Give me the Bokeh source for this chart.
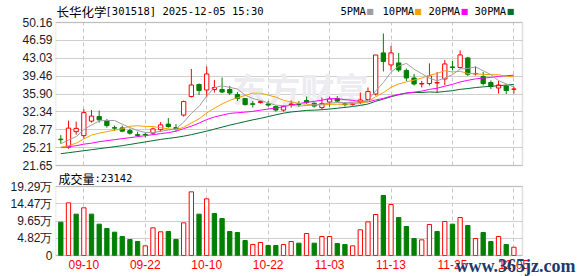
from bokeh.plotting import figure
from bokeh.models import FixedTicker, Range1d, Label, ColumnDataSource, BoxAnnotation, Grid
from bokeh.embed import file_html
from bokeh.resources import INLINE

# ---------------- data ----------------
dates = ["09-05", "09-08", "09-09", "09-10", "09-11", "09-12", "09-15", "09-16", "09-17", "09-18",
         "09-19", "09-22", "09-23", "09-24", "09-25", "09-26", "09-29", "09-30", "10-09", "10-10",
         "10-13", "10-14", "10-15", "10-16", "10-17", "10-20", "10-21", "10-22", "10-23", "10-24",
         "10-27", "10-28", "10-29", "10-30", "10-31", "11-03", "11-04", "11-05", "11-06", "11-07",
         "11-10", "11-11", "11-12", "11-13", "11-14", "11-17", "11-18", "11-19", "11-20", "11-21",
         "11-24", "11-25", "11-26", "11-27", "11-28", "12-01", "12-02", "12-03", "12-04", "12-05"]

open_ = [26.9, 25.3, 28.4, 27.6, 30.5, 31.4, 30.5, 29.2, 29.15, 28.6,
         27.8, 27.85, 28.1, 28.8, 29.9, 29.2, 31.7, 35.4, 37.8, 36.7,
         36.8, 36.8, 36.8, 35.8, 35.0, 33.95, 34.2, 33.9, 33.4, 32.7,
         33.8, 33.9, 34.6, 34.05, 33.2, 34.3, 35.0, 33.95, 33.85, 34.2,
         34.8, 35.9, 44.1, 41.7, 42.1, 40.6, 39.1, 37.9, 38.0, 38.1,
         38.9, 41.3, 41.2, 43.1, 39.9, 39.4, 38.2, 37.1, 37.5, 36.85]
high = [27.7, 30.6, 30.4, 32.9, 32.7, 32.6, 30.9, 29.6, 29.6, 29.0,
        28.4, 28.2, 29.2, 30.3, 31.1, 29.9, 34.6, 40.9, 38.0, 41.4,
        38.7, 39.2, 37.5, 36.3, 35.1, 34.5, 34.6, 34.5, 33.6, 33.7,
        34.6, 34.5, 35.4, 34.2, 35.2, 35.4, 35.5, 34.3, 34.2, 36.2,
        37.2, 43.68, 47.97, 45.5, 44.1, 41.0, 39.9, 38.5, 42.0, 40.3,
        42.7, 42.5, 44.6, 43.3, 41.4, 40.3, 38.6, 38.5, 37.6, 37.4]
low = [26.0, 25.0, 27.8, 27.0, 30.2, 30.2, 29.2, 28.6, 28.3, 27.8,
       27.4, 27.2, 27.8, 28.4, 29.2, 28.4, 31.4, 35.2, 35.7, 35.2,
       36.2, 36.1, 35.7, 34.5, 33.6, 33.2, 34.0, 33.4, 32.4, 32.4,
       33.2, 33.3, 33.9, 33.2, 32.8, 33.4, 34.3, 33.4, 33.6, 33.9,
       34.6, 35.6, 40.4, 40.6, 40.3, 38.5, 37.6, 37.2, 37.6, 36.1,
       37.7, 40.6, 41.0, 39.5, 39.6, 37.6, 36.9, 36.0, 35.9, 36.0]
close = [26.8, 29.1, 29.05, 32.2, 31.5, 30.75, 29.6, 29.1, 28.5, 28.1,
         27.65, 27.75, 28.95, 29.75, 29.4, 29.0, 34.4, 37.7, 36.6, 39.9,
         37.2, 36.3, 36.1, 35.0, 33.8, 33.85, 34.4, 33.7, 32.7, 33.4,
         33.9, 33.8, 34.2, 33.5, 34.0, 34.9, 34.5, 33.8, 33.95, 34.7,
         36.4, 43.68, 42.4, 44.1, 40.7, 39.1, 37.9, 38.0, 39.5, 38.2,
         41.9, 41.2, 43.7, 39.85, 40.0, 38.0, 37.4, 37.7, 36.6, 36.9]

# volume in units of 万 (10k lots)
volume = [9.32, 14.72, 11.56, 13.33, 11.56, 8.76, 7.55, 6.52, 5.31, 4.47,
          3.91, 2.70, 7.73, 6.62, 6.71, 4.47, 9.13, 17.80, 11.56, 15.84,
          11.74, 10.34, 6.71, 6.43, 4.19, 3.08, 3.63, 2.80, 2.80, 3.08,
          3.91, 3.45, 6.15, 3.45, 5.31, 5.31, 3.35, 3.08, 2.70, 7.18,
          9.41, 11.46, 16.77, 14.26, 10.62, 8.11, 4.75, 4.38, 8.67, 6.71,
          9.50, 8.76, 10.62, 8.39, 4.75, 6.43, 3.91, 5.31, 3.08, 2.3142]

ma5 = [26.0, 26.7, 27.4, 28.8, 29.74, 30.53, 30.63, 30.63, 29.89, 29.21,
       28.62, 28.24, 28.21, 28.46, 28.72, 28.96, 30.3, 32.05, 33.42, 35.52,
       37.16, 37.54, 37.22, 36.9, 35.68, 35.0, 34.62, 34.14, 33.68, 33.6,
       33.62, 33.5, 33.6, 33.76, 33.88, 34.08, 34.22, 34.16, 34.22, 34.36,
       34.66, 36.5, 38.2, 40.26, 41.46, 42.0, 40.86, 39.96, 39.04, 38.54,
       39.1, 39.74, 40.9, 40.98, 41.32, 40.54, 39.78, 38.58, 37.92, 37.32]
ma10 = [25.3, 25.6, 26.1, 26.96, 27.7, 28.1, 28.4, 28.7, 28.95, 29.48,
        29.58, 29.44, 29.42, 29.18, 28.97, 28.79, 29.27, 30.13, 30.94, 32.12,
        33.06, 33.92, 34.64, 35.16, 35.6, 36.08, 36.08, 35.68, 35.29, 34.64,
        34.31, 34.06, 33.87, 33.72, 33.74, 33.85, 33.86, 33.88, 33.99, 34.12,
        34.37, 35.36, 36.18, 37.24, 37.91, 38.33, 38.68, 39.08, 39.65, 40.0,
        40.55, 40.3, 40.43, 40.01, 39.93, 39.82, 39.76, 39.74, 39.45, 39.32]
ma20 = [25.2, 25.4, 25.6, 25.9, 26.1, 26.4, 26.6, 26.8, 27.0, 27.2,
        27.4, 27.6, 27.8, 28.0, 28.2, 28.5, 29.0, 29.5, 30.1, 30.8,
        31.32, 31.68, 32.03, 32.17, 32.29, 32.44, 32.68, 32.91, 33.12, 33.38,
        33.69, 33.99, 34.25, 34.44, 34.67, 34.97, 34.97, 34.78, 34.64, 34.38,
        34.34, 34.71, 35.03, 35.48, 35.83, 36.09, 36.27, 36.48, 36.82, 37.06,
        37.46, 37.83, 38.31, 38.63, 38.92, 39.08, 39.22, 39.41, 39.55, 39.66]
ma30 = [24.0, 24.2, 24.4, 24.6, 24.8, 25.0, 25.2, 25.4, 25.6, 25.85,
        26.1, 26.35, 26.6, 26.85, 27.05, 27.25, 27.5, 27.8, 28.15, 28.5,
        28.9, 29.3, 29.7, 30.05, 30.4, 30.75, 31.05, 31.4, 31.75, 32.08,
        32.32, 32.47, 32.64, 32.69, 32.77, 32.91, 33.07, 33.23, 33.41, 33.63,
        33.91, 34.45, 34.89, 35.37, 35.75, 36.09, 36.21, 36.21, 36.31, 36.25,
        36.41, 36.57, 36.83, 36.99, 37.19, 37.33, 37.43, 37.56, 37.69, 37.81]

price_ticks = [21.65, 25.21375, 28.7775, 32.34125, 35.905, 39.46875, 43.0325, 46.59625, 50.16]
price_labels = ["21.65", "25.21", "28.77", "32.34", "35.90", "39.46", "43.03", "46.59", "50.16"]
vol_ticks = [0, 4.8225, 9.645, 14.4675, 19.29]
vol_labels = ["0", "4.82万", "9.65万", "14.47万", "19.29万"]
date_ticks = ["09-10", "09-22", "10-10", "10-22", "11-03", "11-13", "11-25", "12-05"]

stock_name = "长华化学"
stock_info = "[301518] 2025-12-05 15:30"
vol_title = "成交量"
vol_value = ":23142"
ma_names = ["5PMA", "10PMA", "20PMA", "30PMA"]

# ---------------- styles / geometry ----------------
RED = "#ff0000"
GREEN = "#008000"
MA_COLORS = ["#9e9e9e", "#f5a200", "#ff00ff", "#006e2e"]
GRID = "#cfcfcf"
VGRID = "#c8c8c8"
BOX = "#999999"
LABEL_FONT = "Liberation Sans"
MONO = "DejaVu Sans Mono"
CJK = "Noto Sans CJK SC"
HAS_CB = "cross_bounds" in Grid.properties()

n = len(dates)
idx = list(range(n))
tick_idx = [dates.index(d) for d in date_ticks]

PX = 467.0 / 60.81           # pixels per candle slot
XR = (-0.69, 60.12)          # candle range covered by the boxed panels
PMIN, PMAX = price_ticks[0], price_ticks[-1]
VMAX = vol_ticks[-1]
ps = (PMAX - PMIN) / 143.0   # price per pixel (price box: y 22..165)
vs = VMAX / 69.0             # volume per pixel (volume box: y 186..255)
Y0 = PMIN - 90 * ps          # main-scale position of volume zero (y 255)


def xpx(px):
    return XR[0] + (px - 55) / PX


def vol_to_main(v):
    return Y0 + v * ps / vs


up = [c >= o for o, c in zip(open_, close)]
src = ColumnDataSource(dict(
    x=idx, o=open_, h=high, l=low, c=close,
    top=[max(o, c) for o, c in zip(open_, close)],
    bot=[min(o, c) for o, c in zip(open_, close)],
    col=[RED if u else GREEN for u in up],
    fill=["#ffffff" if u else GREEN for u in up],
))
vol_up = [False] + [close[i] > close[i - 1] for i in range(1, n)]
vsrc = ColumnDataSource(dict(
    x=idx, v=volume,
    col=[RED if u else GREEN for u in vol_up],
    fill=["#ffffff" if u else GREEN for u in vol_up],
))

# ---------------- figure (one canvas, two panels) ----------------
p = figure(width=578, height=276,
           x_range=Range1d(XR[0], XR[0] + 523 / PX),
           y_range=Range1d(PMIN - 111 * ps, PMAX + 22 * ps),
           output_backend="svg", toolbar_location=None,
           min_border_left=55, min_border_right=0, min_border_top=0, min_border_bottom=0)
p.extra_y_ranges = {"vol": Range1d(-21 * vs, VMAX + 186 * vs)}
p.outline_line_color = None
p.background_fill_color = "#ffffff"
p.border_fill_color = "#ffffff"

# one left axis carrying both the price ticks and the volume ticks
vol_pos = [vol_to_main(v) for v in vol_ticks]
all_ticks = price_ticks + vol_pos
overrides = {t: s for t, s in zip(price_ticks, price_labels)}
overrides.update({t: s for t, s in zip(vol_pos, vol_labels)})
yax = p.yaxis[0]
yax.ticker = FixedTicker(ticks=all_ticks)
yax.major_label_overrides = overrides
yax.axis_line_color = None
yax.major_tick_line_color = None
yax.minor_tick_line_color = None
yax.major_tick_out = 0
yax.major_tick_in = 0
yax.major_label_standoff = 3
yax.major_label_text_font = LABEL_FONT
yax.major_label_text_font_size = "12px"
yax.major_label_text_color = "#1a1a2a"

# date axis, pinned to the volume zero line
xax = p.xaxis[0]
xax.fixed_location = Y0
xax.ticker = FixedTicker(ticks=tick_idx)
xax.major_label_overrides = {i: d for i, d in zip(tick_idx, date_ticks)}
xax.axis_line_color = None
xax.major_tick_line_color = None
xax.minor_tick_line_color = None
xax.major_tick_out = 0
xax.major_tick_in = 0
xax.major_label_standoff = 4
xax.major_label_text_font = LABEL_FONT
xax.major_label_text_font_size = "12px"
xax.major_label_text_color = RED

# grids
p.ygrid.ticker = FixedTicker(ticks=all_ticks)
p.ygrid.grid_line_color = GRID
p.xgrid.ticker = FixedTicker(ticks=tick_idx)
p.xgrid.grid_line_color = VGRID
p.xgrid.grid_line_dash = "4 3"
if HAS_CB:
    p.ygrid.cross_bounds = XR
    p.xgrid.cross_bounds = (PMIN, PMAX)
    p.add_layout(Grid(dimension=0, ticker=FixedTicker(ticks=tick_idx),
                      cross_bounds=(vol_pos[0], vol_pos[-1]),
                      grid_line_color=VGRID, grid_line_dash="4 3"))
else:
    p.xgrid.visible = False
    p.ygrid.visible = False
    k = len(tick_idx)
    p.segment(x0=tick_idx, y0=[PMIN] * k, x1=tick_idx, y1=[PMAX] * k,
              line_color=VGRID, line_dash="4 3")
    p.segment(x0=tick_idx, y0=[vol_pos[0]] * k, x1=tick_idx, y1=[vol_pos[-1]] * k,
              line_color=VGRID, line_dash="4 3")
    m = len(all_ticks)
    p.segment(x0=[XR[0]] * m, y0=all_ticks, x1=[XR[1]] * m, y1=all_ticks, line_color=GRID)

# watermark
p.add_layout(Label(x=xpx(232), y=PMAX - (88 - 22) * ps, text="东方财富", text_font=CJK,
                   text_font_size="34px", text_color="#ebebf0", text_baseline="middle",
                   text_font_style="bold", level="underlay"))

# candles
p.segment(x0="x", y0="l", x1="x", y1="h", color="col", line_width=1, source=src)
p.vbar(x="x", top="top", bottom="bot", width=0.56, fill_color="fill", line_color="col",
       line_width=1, source=src)
for ma, colr in zip([ma30, ma20, ma10, ma5], MA_COLORS[::-1]):
    p.line(idx, ma, line_color=colr, line_width=1)

# volume
p.vbar(x="x", top="v", bottom=0, width=0.56, fill_color="fill", line_color="col",
       line_width=1, source=vsrc, y_range_name="vol")

# panel boxes
p.add_layout(BoxAnnotation(left=XR[0], right=XR[1], bottom=PMIN, top=PMAX,
                           fill_alpha=0, line_color=BOX, line_width=1.5))
p.add_layout(BoxAnnotation(left=XR[0], right=XR[1], bottom=0, top=VMAX, y_range_name="vol",
                           fill_alpha=0, line_color=BOX, line_width=1.5))

# title & legend
y_head = PMAX + (22 - 10.5) * ps
p.add_layout(Label(x=xpx(56), y=y_head, text=stock_name, text_font=CJK,
                   text_font_size="12.5px", text_color="#000000", text_baseline="middle"))
p.add_layout(Label(x=xpx(105), y=y_head, text=stock_info, text_font=MONO,
                   text_font_size="10.5px", text_color="#000000", text_baseline="middle"))
leg_text_x = [340, 382, 428, 474]
leg_box_x = [369.5, 417.5, 464, 510]
for name, tx, bx, colr in zip(ma_names, leg_text_x, leg_box_x, MA_COLORS):
    p.add_layout(Label(x=xpx(tx), y=y_head, text=name, text_font=MONO,
                       text_font_size="10.5px", text_color="#000000", text_baseline="middle"))
    p.add_layout(Label(x=xpx(bx), y=y_head, text="■", text_font="DejaVu Sans",
                       text_font_size="8px", text_color=colr, text_baseline="middle",
                       text_align="center"))

# volume title and site watermark
y_vt = VMAX + (186 - 177.5) * vs
p.add_layout(Label(x=xpx(58), y=y_vt, y_range_name="vol", text=vol_title, text_font=CJK,
                   text_font_size="12px", text_color="#000000", text_baseline="middle"))
p.add_layout(Label(x=xpx(94), y=y_vt, y_range_name="vol", text=vol_value, text_font=MONO,
                   text_font_size="10.5px", text_color="#000000", text_baseline="middle"))
p.add_layout(Label(x=xpx(455), y=(255 - 265) * vs, y_range_name="vol", text="www.365jz.com",
                   text_font="Liberation Serif", text_font_size="18px", text_font_style="bold",
                   text_color="#1d3a6e", text_baseline="alphabetic"))

open("out.html", "w").write(file_html(p, INLINE))
